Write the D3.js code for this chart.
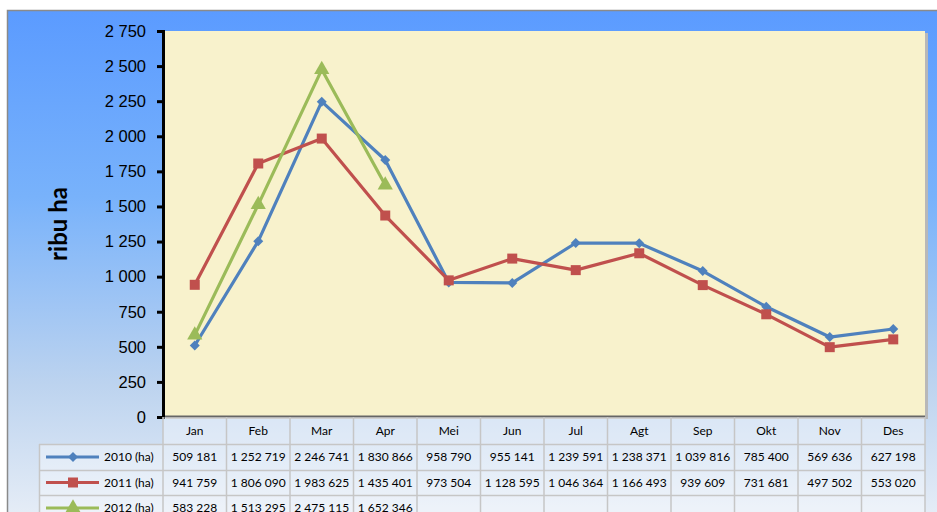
<!DOCTYPE html>
<html>
<head>
<meta charset="utf-8">
<script src="https://cdn.jsdelivr.net/npm/d3@7"></script>
<style>
  body { margin: 0; background: #fff; }
  svg { display: block; font-family: Lato, "Open Sans", sans-serif; }
</style>
</head>
<body>
<div id="chart"></div>
<script>
const months = ["Jan", "Feb", "Mar", "Apr", "Mei", "Jun", "Jul", "Agt", "Sep", "Okt", "Nov", "Des"]
const seriesNames = ["2010 (ha)", "2011 (ha)", "2012 (ha)"]
const v2010 = [509181, 1252719, 2246741, 1830866, 958790, 955141, 1239591, 1238371, 1039816, 785400, 569636, 627198]
const v2011 = [941759, 1806090, 1983625, 1435401, 973504, 1128595, 1046364, 1166493, 939609, 731681, 497502, 553020]
const v2012 = [583228, 1513295, 2475115, 1652346]
const yTicks = [0, 250, 500, 750, 1000, 1250, 1500, 1750, 2000, 2250, 2500, 2750]
const colors = ["#4f81bd", "#c0504d", "#9bbb59"]

const allSeries = [v2010, v2011, v2012]

const W = 937, H = 512
const plot = { left: 163, right: 925, top: 31, bottom: 417 }

const fmt = d3.formatLocale({ decimal: ",", thousands: " ", grouping: [3], currency: ["", ""] }).format(",d")

// diamond as a square turned 45 degrees, square, triangle
function marker(k) {
    if (k == 0) return d3.symbol().type(d3.symbolSquare).size(50)()
    if (k == 1) return d3.symbol().type(d3.symbolSquare).size(100)()
    return d3.symbol().type(d3.symbolTriangle).size(100)()
}
const markerRot = [45, 0, 0]

const svg = d3.select('#chart').append('svg')
    .attr('width', W)
    .attr('height', H)

const defs = svg.append('defs')
const grad = defs.append('linearGradient')
    .attr('id', 'bg')
    .attr('x1', 0).attr('y1', 0).attr('x2', 0).attr('y2', 1)
grad.append('stop').attr('offset', '0%').attr('stop-color', '#5b9bff')
grad.append('stop').attr('offset', '35%').attr('stop-color', '#78b2fb')
grad.append('stop').attr('offset', '70%').attr('stop-color', '#bcd3ef')
grad.append('stop').attr('offset', '100%').attr('stop-color', '#eef2f8')

// chart background frame
svg.append('rect')
    .attr('x', 7.5).attr('y', 10.5)
    .attr('width', W + 20).attr('height', H + 20)
    .attr('fill', 'url(#bg)')
    .attr('stroke', '#8a8a8a')
    .attr('stroke-width', 1.5)

const x = d3.scaleBand().domain(months).range([plot.left, plot.right])
const y = d3.scaleLinear().domain([0, 2750]).range([plot.bottom, plot.top])

// plot area with shadow
svg.append('rect')
    .attr('x', plot.left + 3).attr('y', plot.top + 2)
    .attr('width', plot.right - plot.left).attr('height', plot.bottom - plot.top)
    .attr('fill', '#b8b8b8')
svg.append('rect')
    .attr('x', plot.left).attr('y', plot.top)
    .attr('width', plot.right - plot.left).attr('height', plot.bottom - plot.top)
    .attr('fill', '#f8f2cc')
svg.append('line')
    .attr('x1', plot.left).attr('x2', plot.right)
    .attr('y1', plot.bottom - 0.5).attr('y2', plot.bottom - 0.5)
    .attr('stroke', '#666').attr('stroke-width', 2)

// y axis
const yAxis = svg.append('g')
    .attr('transform', `translate(${plot.left},0)`)
    .call(d3.axisLeft(y).tickValues(yTicks).tickSize(6).tickPadding(11).tickFormat(fmt))
yAxis.select('.domain').attr('stroke', '#000').attr('stroke-width', 3)
yAxis.selectAll('.tick line').attr('stroke', '#000').attr('stroke-width', 3)
yAxis.selectAll('text').style('font-size', '16.5px').attr('fill', '#000')

svg.append('text')
    .attr('transform', 'translate(67,224) rotate(-90)')
    .attr('text-anchor', 'middle')
    .style('font-size', '24px')
    .style('font-weight', 'bold')
    .text('ribu ha')

// lines and markers
const line = d3.line()
    .x((d, i) => x(months[i]) + x.bandwidth() / 2)
    .y(d => y(d / 1000))

allSeries.forEach((s, k) => {
    svg.append('path')
        .datum(s)
        .attr('d', line)
        .attr('fill', 'none')
        .attr('stroke', colors[k])
        .attr('stroke-width', 3.2)
        .attr('stroke-linejoin', 'round')
    svg.selectAll(null)
        .data(s).enter()
        .append('path')
        .attr('d', marker(k))
        .attr('transform', (d, i) => `translate(${x(months[i]) + x.bandwidth() / 2},${y(d / 1000)}) rotate(${markerRot[k]})`)
        .attr('fill', colors[k])
})

// data table
const gridCol = '#c6c6c6'
const rowTops = [417, 444, 470, 495, 521]
const tableLeft = 39
const tbl = svg.append('g')

tbl.append('rect')
    .attr('x', tableLeft).attr('y', rowTops[1])
    .attr('width', plot.left - tableLeft).attr('height', rowTops[4] - rowTops[1])
    .attr('fill', '#ffffff').attr('opacity', 0.35)
tbl.append('rect')
    .attr('x', plot.left).attr('y', rowTops[0])
    .attr('width', plot.right - plot.left).attr('height', rowTops[4] - rowTops[0])
    .attr('fill', '#ffffff').attr('opacity', 0.35)

// horizontal lines
rowTops.slice(1, 4).forEach(t => {
    tbl.append('line')
        .attr('x1', tableLeft).attr('x2', plot.right)
        .attr('y1', t + 0.5).attr('y2', t + 0.5)
        .attr('stroke', gridCol).attr('stroke-width', 1.5)
})
// vertical lines
tbl.append('line')
    .attr('x1', tableLeft + 0.5).attr('x2', tableLeft + 0.5)
    .attr('y1', rowTops[1]).attr('y2', H)
    .attr('stroke', gridCol).attr('stroke-width', 1.5)
const colEdges = months.map(m => x(m)).concat([plot.right])
colEdges.forEach(cx => {
    tbl.append('line')
        .attr('x1', cx).attr('x2', cx)
        .attr('y1', plot.bottom).attr('y2', H)
        .attr('stroke', gridCol).attr('stroke-width', 1.5)
})

// month labels
tbl.selectAll('text.month')
    .data(months).enter()
    .append('text')
    .attr('class', 'month')
    .attr('x', d => x(d) + x.bandwidth() / 2)
    .attr('y', (rowTops[0] + rowTops[1]) / 2 + 4)
    .attr('text-anchor', 'middle')
    .style('font-size', '12px')
    .text(d => d)

// values and legend keys
allSeries.forEach((s, k) => {
    const cy = (rowTops[k + 1] + rowTops[k + 2]) / 2
    tbl.selectAll(null)
        .data(s).enter()
        .append('text')
        .attr('x', (d, i) => x(months[i]) + x.bandwidth() / 2)
        .attr('y', cy + 4)
        .attr('text-anchor', 'middle')
        .style('font-size', '12px')
        .text(d => fmt(d))

    tbl.append('line')
        .attr('x1', 46).attr('x2', 99)
        .attr('y1', cy).attr('y2', cy)
        .attr('stroke', colors[k]).attr('stroke-width', 3)
    tbl.append('path')
        .attr('d', marker(k))
        .attr('transform', `translate(73,${cy}) rotate(${markerRot[k]})`)
        .attr('fill', colors[k])
    tbl.append('text')
        .attr('x', 104).attr('y', cy + 4)
        .style('font-size', '12px')
        .text(seriesNames[k])
})
</script>
</body>
</html>
